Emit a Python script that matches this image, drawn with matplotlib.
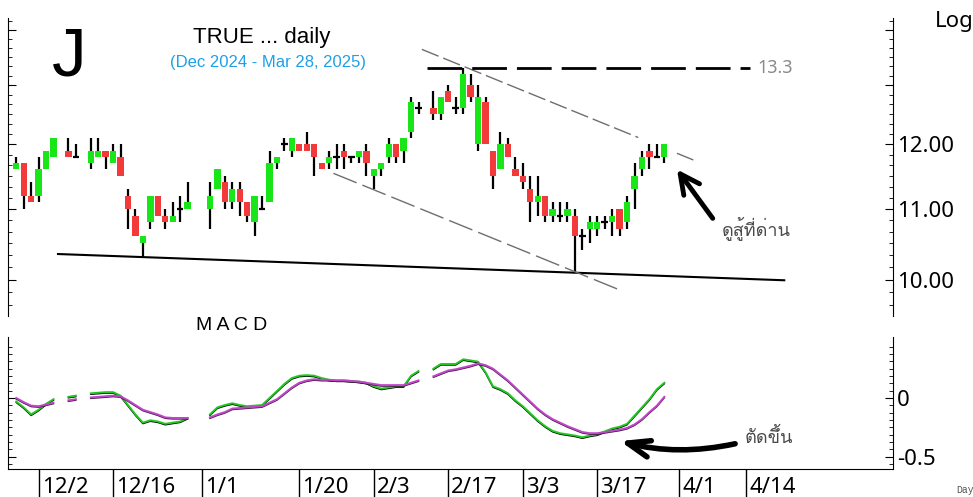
import numpy as np
import pandas as pd
import matplotlib
matplotlib.use('Agg')
import matplotlib.pyplot as plt
from matplotlib import font_manager
from matplotlib.ft2font import FT2Font
from matplotlib.ticker import FixedLocator, FixedFormatter, NullFormatter
from matplotlib.transforms import offset_copy

# SET trading days; holidays keep an empty slot on the axis
start, end = '2024-11-27', '2025-03-28'
holidays = ['2024-12-05', '2024-12-10', '2024-12-31', '2025-01-01', '2025-02-12']

opens = [11.6, 11.7, 11.2, 11.2, 11.6, 11.8, 11.9, 11.8, 11.7, 11.8, 11.9, 11.7, 11.8, 11.2,
         10.9, 10.5, 10.8, 11.2, 10.9, 10.8, 11.0, 11.0, 11.0, 11.3, 11.4, 11.1, 11.3, 11.1,
         10.8, 11.0, 11.1, 11.7, 12.0, 11.9, 12.0, 12.0, 12.0, 11.7, 11.7, 11.8, 11.9, 11.8,
         11.8, 11.9, 11.5, 11.6, 11.8, 12.0, 11.9, 12.2, 12.6, 12.6, 12.5, 12.9, 12.6, 12.6,
         13.0, 12.0, 12.7, 11.9, 11.6, 12.0, 11.6, 11.5, 11.3, 11.1, 11.2, 10.9, 10.9, 10.9,
         10.9, 10.6, 10.7, 10.7, 10.8, 10.8, 11.0, 10.8, 11.3, 11.6, 11.9, 11.8, 11.8]
highs = [11.8, 11.7, 11.4, 11.8, 11.9, 12.1, 12.1, 12.0, 12.1, 12.1, 11.9, 12.0, 12.0, 11.3,
         11.0, 10.6, 11.2, 11.2, 11.0, 11.1, 11.2, 11.4, 11.4, 11.6, 11.5, 11.4, 11.4, 11.1,
         11.2, 11.2, 11.9, 11.8, 12.1, 12.1, 12.0, 12.2, 12.0, 11.7, 11.9, 12.0, 12.0, 11.8,
         11.9, 12.0, 11.6, 11.7, 12.1, 12.0, 12.1, 12.8, 12.7, 12.9, 12.8, 13.0, 12.8, 13.3,
         13.2, 13.0, 12.8, 11.9, 12.2, 12.1, 11.8, 11.7, 11.5, 11.5, 11.2, 11.1, 11.1, 11.1,
         11.0, 10.7, 10.9, 10.9, 10.9, 11.0, 11.0, 11.2, 11.7, 11.9, 12.0, 12.0, 12.0]
lows = [11.6, 11.0, 11.1, 11.1, 11.6, 11.8, 11.8, 11.8, 11.6, 11.8, 11.6, 11.7, 11.5, 10.7,
        10.6, 10.3, 10.7, 10.9, 10.7, 10.8, 10.8, 11.0, 10.7, 11.3, 11.0, 11.0, 10.9, 10.8,
        10.6, 11.0, 11.1, 11.6, 11.9, 11.8, 11.9, 11.9, 11.5, 11.6, 11.6, 11.6, 11.6, 11.7,
        11.7, 11.5, 11.3, 11.5, 11.7, 11.7, 11.7, 12.1, 12.5, 12.4, 12.4, 12.7, 12.5, 12.5,
        12.7, 11.9, 12.0, 11.3, 11.6, 11.8, 11.5, 11.3, 10.8, 10.9, 10.8, 10.8, 10.8, 10.8,
        10.1, 10.4, 10.5, 10.6, 10.7, 10.6, 10.6, 10.7, 11.0, 11.5, 11.6, 11.8, 11.7]
closes = [11.7, 11.2, 11.1, 11.6, 11.9, 12.1, 11.8, 11.8, 11.9, 11.9, 11.8, 11.9, 11.5, 11.0,
          10.6, 10.6, 11.2, 10.9, 10.8, 10.9, 11.0, 11.1, 11.2, 11.6, 11.1, 11.3, 11.1, 10.9,
          11.2, 11.0, 11.7, 11.8, 12.0, 12.1, 11.9, 11.9, 11.8, 11.6, 11.8, 11.8, 11.8, 11.8,
          11.9, 11.7, 11.6, 11.7, 12.0, 11.8, 12.1, 12.7, 12.6, 12.5, 12.8, 12.7, 12.6, 13.2,
          12.8, 12.8, 12.0, 11.5, 12.0, 11.8, 11.5, 11.4, 11.1, 11.2, 10.9, 11.0, 10.9, 11.0,
          10.6, 10.6, 10.8, 10.8, 10.8, 10.9, 10.7, 11.1, 11.5, 11.8, 11.8, 11.8, 12.0]

macd = [-0.03, -0.08, -0.14, -0.10, -0.05, -0.01, 0.01, 0.02, 0.04, 0.045, 0.05, 0.05, 0.02,
        -0.06, -0.14, -0.21, -0.19, -0.20, -0.22, -0.21, -0.20, -0.17, -0.14, -0.08, -0.06,
        -0.045, -0.06, -0.07, -0.065, -0.06, 0.0, 0.06, 0.12, 0.17, 0.19, 0.195, 0.19, 0.17,
        0.155, 0.15, 0.15, 0.145, 0.14, 0.13, 0.10, 0.08, 0.09, 0.10, 0.10, 0.19, 0.23, 0.25,
        0.29, 0.29, 0.29, 0.33, 0.32, 0.31, 0.22, 0.10, 0.075, 0.04, -0.02, -0.07, -0.13,
        -0.19, -0.24, -0.28, -0.30, -0.31, -0.32, -0.335, -0.32, -0.31, -0.285, -0.26, -0.245,
        -0.22, -0.15, -0.08, -0.01, 0.075, 0.13]
signal = [0.0, -0.035, -0.065, -0.07, -0.055, -0.04, -0.02, -0.01, 0.005, 0.01, 0.015, 0.02,
          0.015, -0.02, -0.06, -0.10, -0.12, -0.14, -0.165, -0.17, -0.17, -0.17, -0.165, -0.14,
          -0.12, -0.09, -0.085, -0.08, -0.075, -0.07, -0.04, -0.01, 0.04, 0.09, 0.13, 0.15,
          0.16, 0.155, 0.155, 0.15, 0.15, 0.145, 0.14, 0.13, 0.12, 0.11, 0.11, 0.11, 0.11,
          0.13, 0.15, 0.185, 0.21, 0.235, 0.245, 0.26, 0.275, 0.295, 0.28, 0.25, 0.20, 0.15,
          0.09, 0.03, -0.03, -0.09, -0.14, -0.18, -0.21, -0.24, -0.265, -0.29, -0.30, -0.30,
          -0.29, -0.28, -0.27, -0.255, -0.225, -0.18, -0.12, -0.065, 0.01]

tick_dates = ['2024-12-02', '2024-12-16', '2025-01-01', '2025-01-20', '2025-02-03',
              '2025-02-17', '2025-03-03', '2025-03-17', '2025-04-01', '2025-04-14']
tick_labels = ['12/2', '12/16', '1/1', '1/20', '2/3', '2/17', '3/3', '3/17', '4/1', '4/14']

# hand drawn lines (slot index, price)
support = ([5.6, 103.1], [10.35, 9.99])
chan_top = ([54.45, 90.9], [13.64, 11.75])
chan_bot = ([42.58, 80.65], [11.54, 9.875])
resist = 13.3

GREEN = '#19E619'
RED = '#F23A3A'


def thai_font():
    for f in font_manager.fontManager.ttflist:
        try:
            if ord('ด') in FT2Font(f.fname).get_charmap():
                return f.name
        except Exception:
            pass
    return 'DejaVu Sans'


plt.rcParams['font.family'] = ['Noto Sans', 'DejaVu Sans']
THAI = [thai_font(), 'DejaVu Sans']

slots = pd.bdate_range(start, '2025-04-30')
days = [d for d in pd.bdate_range(start, end) if d.strftime('%Y-%m-%d') not in holidays]
x = np.array([slots.get_loc(d) for d in days])
o, h, l, c = map(np.array, (opens, highs, lows, closes))

W, H = 973, 497
fig = plt.figure(figsize=(W / 100, H / 100), dpi=100)
ax = fig.add_axes([8 / W, 1 - 316 / H, 885 / W, 298 / H])
axm = fig.add_axes([8 / W, 1 - 469 / H, 885 / W, 132 / H])
xlim = (-1.11, 117.7)

# ---- price panel
ax.vlines(x, l, h, color='black', lw=1.6, zorder=2)
up, dn, flat = c > o, c < o, c == o
ax.bar(x[up], (c - o)[up], bottom=o[up], width=0.85, color=GREEN, zorder=3)
ax.bar(x[dn], (o - c)[dn], bottom=c[dn], width=0.85, color=RED, zorder=3)
ax.hlines(c[flat], x[flat] - 0.45, x[flat] + 0.45, color='black', lw=1.6, zorder=3)


def logline(pts, xs):
    (x0, x1), (p0, p1) = pts
    xs = np.asarray(xs, float)
    return p0 * (p1 / p0) ** ((xs - x0) / (x1 - x0))


ax.plot(*support, color='black', lw=1.5, zorder=1)
for seg in ([54.45, 83.5], [88.7, 90.9]):
    ax.plot(seg, logline(chan_top, seg), color='#6e6e6e', lw=1, dashes=(13, 3.6))
ax.plot(*chan_bot, color='#6e6e6e', lw=1, dashes=(18, 4.5))
ax.hlines(resist, 55.2, 98.5, color='black', lw=2, linestyles=[(0, (12.5, 3.6))])
ax.text(99.45, resist, '13.3', color='#8a8a8a', fontsize=13, ha='left', va='center')

ax.annotate('', xy=(88.7, 11.60), xytext=(93.5, 10.86),
            arrowprops=dict(arrowstyle='->,head_length=1.4,head_width=0.7', lw=3.5,
                            color='black', shrinkA=0, shrinkB=0))

ax.set_yscale('log')
ax.set_xlim(*xlim)
ax.set_ylim(9.52, 14.23)
ax.yaxis.set_major_locator(FixedLocator([10, 11, 12, 13, 14]))
ax.yaxis.set_major_formatter(FixedFormatter(['10.00', '11.00', '12.00', '', '']))
minors = [10 + k / 6 for k in range(-3, 26) if k % 6]
ax.yaxis.set_minor_locator(FixedLocator(minors))
ax.yaxis.set_minor_formatter(NullFormatter())
ax.tick_params(axis='y', which='both', left=True, right=True, labelleft=False,
               labelright=True, direction='in', labelsize=16, pad=3)
ax.tick_params(axis='y', which='major', length=6)
ax.tick_params(axis='y', which='minor', length=3)
ax.set_xticks([])
ax.spines['top'].set_visible(False)
ax.spines['bottom'].set_visible(False)

# ---- MACD panel
full = np.arange(x.max() + 1)
m_full = np.full(len(full), np.nan)
s_full = np.full(len(full), np.nan)
m_full[x] = macd
s_full[x] = signal
shadow = offset_copy(axm.transData, fig=fig, x=0, y=-1, units='dots')
axm.plot(full, m_full, color='black', lw=1, transform=shadow)
axm.plot(full, m_full, color='#22C822', lw=1.4)
axm.plot(full, s_full, color='#3a1a3a', lw=1, transform=shadow)
axm.plot(full, s_full, color='#C045C8', lw=1.4)

axm.annotate('', xy=(81.05, -0.367), xytext=(96.5, -0.39),
             arrowprops=dict(arrowstyle='->,head_length=1.6,head_width=0.6', lw=4,
                             color='black', shrinkA=0, shrinkB=0,
                             connectionstyle='arc3,rad=-0.12'))

axm.set_xlim(*xlim)
axm.set_ylim(-0.605, 0.52)
axm.yaxis.set_major_locator(FixedLocator([0, -0.5]))
axm.yaxis.set_major_formatter(FixedFormatter(['0', '-0.5']))
axm.yaxis.set_minor_locator(FixedLocator(np.arange(-0.5625, 0.5, 0.0625)))
axm.yaxis.set_minor_formatter(NullFormatter())
axm.tick_params(axis='y', which='both', left=True, right=True, labelleft=False,
                labelright=True, direction='in', labelsize=16, pad=3)
axm.tick_params(axis='y', which='major', length=6)
axm.tick_params(axis='y', which='minor', length=3)
axm.set_xticks([])
axm.spines['top'].set_visible(False)

tpos = [slots.get_loc(pd.Timestamp(d)) for d in tick_dates]
xt = axm.get_xaxis_transform()
axm.vlines(tpos, -0.22, 0, color='black', lw=1, transform=xt, clip_on=False)
lab_tr = offset_copy(xt, fig=fig, x=3, y=0, units='dots')
for p, lab in zip(tpos, tick_labels):
    axm.text(p, -0.06, lab, transform=lab_tr, ha='left', va='top', fontsize=16,
             clip_on=False)

# ---- texts
def px(xp, yp):
    return xp / W, 1 - yp / H


fig.text(*px(69, 57), 'J', fontsize=50, family='Liberation Sans', ha='center', va='center')
fig.text(*px(262, 37), 'TRUE ... daily', fontsize=16, family='Liberation Sans',
         ha='center', va='center')
fig.text(*px(268, 62), '(Dec 2024 - Mar 28, 2025)', fontsize=12, color='#1EA0E6',
         family='Liberation Sans', ha='center', va='center')
fig.text(*px(935, 22), 'Log', fontsize=16, ha='left', va='center')
fig.text(*px(232, 325), 'M A C D', fontsize=14, family='Liberation Sans',
         ha='center', va='center')
fig.text(*px(722, 228), 'ดูสู้ที่ด่าน', fontsize=13, color='#4a4a4a', family=THAI,
         ha='left', va='center')
fig.text(*px(745, 437), 'ตัดขึ้น', fontsize=13, color='#4a4a4a', family=THAI,
         ha='left', va='center')
fig.text(*px(956, 490), 'Day', fontsize=7, color='#555555', family='Liberation Mono',
         ha='left', va='center')

fig.savefig('out.png', dpi=100)
